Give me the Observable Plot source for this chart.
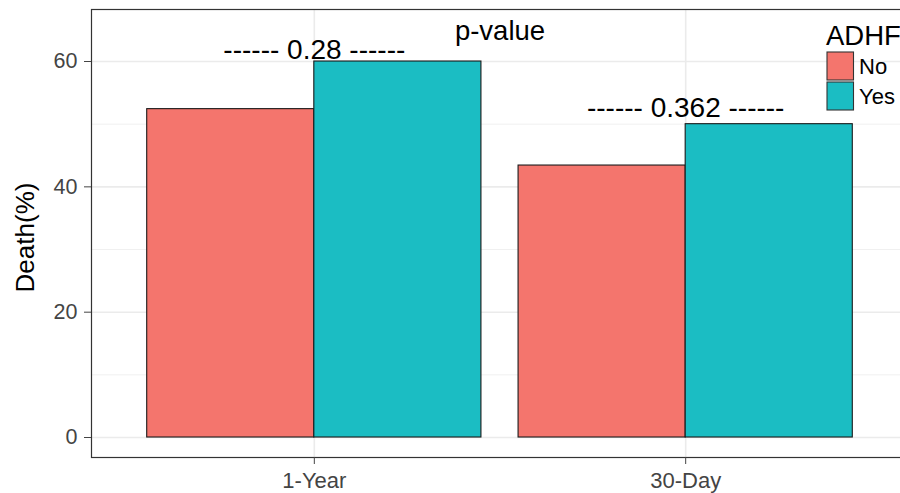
<!DOCTYPE html>
<html><head><meta charset="utf-8">
<script src="https://cdn.jsdelivr.net/npm/d3@7"></script>
<script src="https://cdn.jsdelivr.net/npm/@observablehq/plot@0.6"></script>
<style>
html,body{margin:0;padding:0;overflow:hidden;background:#fff;width:900px;height:493px}
#wrap{position:relative;width:930px;height:493px}
#wrap svg.legend{position:absolute;left:0;top:0}
</style></head><body><div id="wrap"></div>
<script>
const categories = ["1-Year", "30-Day"];
const groups = ["No", "Yes"];
const deathNo = [52.4, 43.4];
const deathYes = [60, 50];
const pValues = ["0.28", "0.362"];
const pLabelY = [60.4, 51.2];
const yTicks = [0, 20, 40, 60];
const yMinor = [10, 30, 50];
const colors = ["#F4756D", "#1BBDC3"];
const legendTitle = "ADHF";

const FONT = "'Liberation Sans', Arial, sans-serif";
const dodge = 0.9;
const rows = [];
categories.forEach((c, i) => {
  groups.forEach((g, j) => {
    const w = dodge / groups.length;
    const x1 = i + 1 - dodge / 2 + j * w;
    rows.push({cat: c, group: g, value: (j === 0 ? deathNo : deathYes)[i], x1, x2: x1 + w});
  });
});
const notes = categories.map((c, i) => ({idx: i + 1, y: pLabelY[i], p: pValues[i]}));

const chart = Plot.plot({
  width: 930, height: 493,
  marginLeft: 91, marginRight: 22, marginTop: 9, marginBottom: 36,
  x: {domain: [0.4, 2.6]},
  y: {domain: [-3.19, 68.3]},
  color: {domain: groups, range: colors},
  style: {fontFamily: FONT, fontSize: "22px", background: "white", overflow: "visible"},
  marks: [
    Plot.ruleY(yMinor, {stroke: "#f0f0f0", strokeWidth: 1}),
    Plot.ruleY(yTicks, {stroke: "#ebebeb", strokeWidth: 1.6}),
    Plot.ruleX(categories.map((c, i) => i + 1), {stroke: "#ebebeb", strokeWidth: 1.6}),
    Plot.rectY(rows, {x1: "x1", x2: "x2", y1: d => 0, y2: "value", fill: "group", stroke: "#1a1a1a", strokeWidth: 1.1}),
    Plot.text(notes, {x: "idx", y: "y", text: d => `------ ${d.p} ------`, lineAnchor: "bottom", fontSize: 28, fill: "black"}),
    Plot.text(["p-value"], {frameAnchor: "top", lineAnchor: "top", dy: 11, fontSize: 27.5, fill: "black"}),
    Plot.frame({stroke: "#333", strokeWidth: 1.2}),
    Plot.axisY({ticks: yTicks, tickSize: 7, tickPadding: 7, label: null, color: "#444", fontSize: 21.5}),
    Plot.axisX({ticks: categories.map((c, i) => i + 1), tickFormat: d => categories[d - 1], tickSize: 7, tickPadding: 8, label: null, color: "#444", fontSize: 22}),
    Plot.text(["Death(%)"], {frameAnchor: "left", dx: -66, dy: 4, rotate: -90, textAnchor: "middle", fontSize: 26, fill: "black"})
  ]
});
const wrap = document.getElementById("wrap");
wrap.appendChild(chart);

// legend overlay
const colorScale = chart.scale("color");
const lg = d3.select(wrap).append("svg").attr("class", "legend")
  .attr("width", 930).attr("height", 130).style("font-family", FONT);
lg.append("text").attr("x", 826).attr("y", 45).attr("font-size", 27.5).text(legendTitle);
groups.forEach((g, j) => {
  lg.append("rect").attr("x", 827).attr("y", 52 + j * 30).attr("width", 26.5).attr("height", 28)
    .attr("fill", colorScale.apply(g)).attr("stroke", "#333").attr("stroke-width", 1.1);
  lg.append("text").attr("x", 859).attr("y", 66 + j * 30).attr("dy", "0.35em").attr("font-size", 22).text(g);
});
</script></body></html>
